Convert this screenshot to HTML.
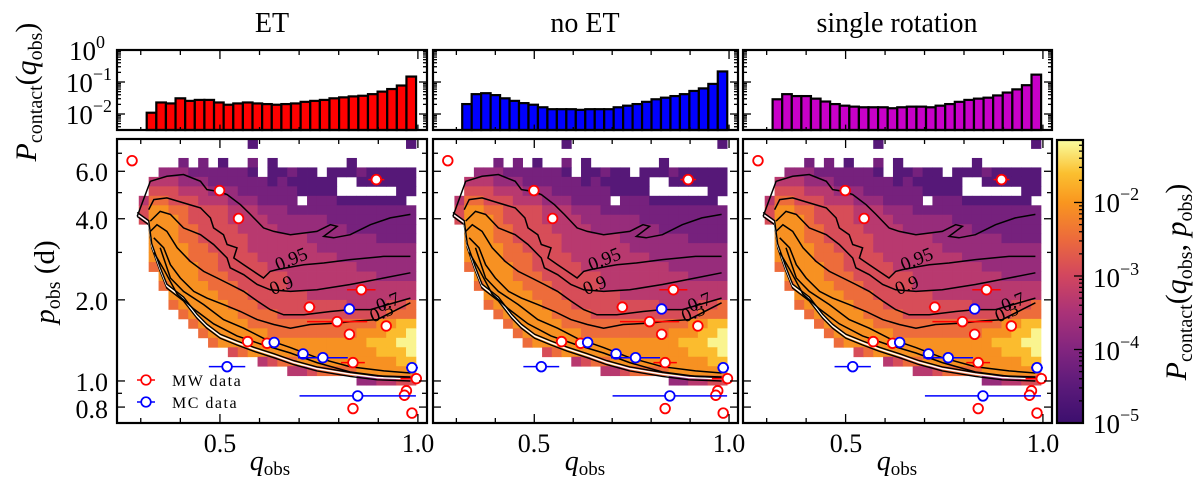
<!DOCTYPE html>
<html><head><meta charset="utf-8">
<style>
html,body{margin:0;padding:0;background:#fff;}
svg{display:block;font-family:"Liberation Serif","DejaVu Serif",serif;}
</style></head>
<body>
<svg id="fig" xmlns="http://www.w3.org/2000/svg" width="1200" height="487" viewBox="0 0 1200 487">
<defs>
<linearGradient id="cbgrad" x1="0" y1="1" x2="0" y2="0"></linearGradient>
<clipPath id="clip0"><rect x="117" y="139" width="310" height="284"/></clipPath>
<clipPath id="clip1"><rect x="433" y="139" width="305" height="284"/></clipPath>
<clipPath id="clip2"><rect x="743" y="139" width="309" height="284"/></clipPath>
</defs>
<g id="marks"></g>
<g font-size="28" fill="#000">
<text x="272" y="32" text-anchor="middle">ET</text>
<text x="585" y="32" text-anchor="middle">no ET</text>
<text x="897" y="32" text-anchor="middle">single rotation</text>
</g>
<g font-size="27" text-anchor="end">
<text x="105" y="60">10<tspan font-size="18" dy="-12">0</tspan></text>
<text x="112" y="92">10<tspan font-size="18" dy="-12">−1</tspan></text>
<text x="112" y="124">10<tspan font-size="18" dy="-12">−2</tspan></text>
</g>
<g font-size="26" text-anchor="end">
<text x="108" y="181">6.0</text>
<text x="108" y="229">4.0</text>
<text x="108" y="310">2.0</text>
<text x="108" y="391">1.0</text>
<text x="108" y="418">0.8</text>
</g>
<g font-size="26" text-anchor="middle">
<text x="220" y="452">0.5</text><text x="418" y="452">1.0</text>
<text x="534" y="452">0.5</text><text x="729" y="452">1.0</text>
<text x="846" y="452">0.5</text><text x="1043" y="452">1.0</text>
</g>
<g font-size="28" text-anchor="middle">
<text x="270" y="470"><tspan font-style="italic">q</tspan><tspan font-size="19" dy="5">obs</tspan></text>
<text x="585" y="470"><tspan font-style="italic">q</tspan><tspan font-size="19" dy="5">obs</tspan></text>
<text x="897" y="470"><tspan font-style="italic">q</tspan><tspan font-size="19" dy="5">obs</tspan></text>
</g>
<text font-size="30" text-anchor="middle" transform="translate(36,92) rotate(-90)"><tspan font-style="italic">P</tspan><tspan font-size="20" dy="6">contact</tspan><tspan dy="-6">(</tspan><tspan font-style="italic">q</tspan><tspan font-size="20" dy="6">obs</tspan><tspan dy="-6">)</tspan></text>
<text font-size="29" text-anchor="middle" transform="translate(54,282) rotate(-90)"><tspan font-style="italic">p</tspan><tspan font-size="20" dy="6">obs</tspan><tspan dy="-6"> (d)</tspan></text>
<text font-size="30" text-anchor="middle" transform="translate(1186,282) rotate(-90)"><tspan font-style="italic">P</tspan><tspan font-size="20" dy="6">contact</tspan><tspan dy="-6">(</tspan><tspan font-style="italic">q</tspan><tspan font-size="20" dy="6">obs</tspan><tspan dy="-6">, </tspan><tspan font-style="italic">p</tspan><tspan font-size="20" dy="6">obs</tspan><tspan dy="-6">)</tspan></text>
<g font-size="27">
<text x="1093" y="212">10<tspan font-size="18" dy="-12">−2</tspan></text>
<text x="1093" y="287">10<tspan font-size="18" dy="-12">−3</tspan></text>
<text x="1093" y="360">10<tspan font-size="18" dy="-12">−4</tspan></text>
<text x="1093" y="433">10<tspan font-size="18" dy="-12">−5</tspan></text>
</g>
<g font-size="16" letter-spacing="1.5">
<line x1="137" y1="380" x2="155" y2="380" stroke="#ff0000" stroke-width="1.5"/>
<circle cx="146" cy="380" r="4.8" fill="#fff" stroke="#ff0000" stroke-width="1.7"/>
<text x="172" y="386">MW data</text>
<line x1="137" y1="402" x2="155" y2="402" stroke="#0000ff" stroke-width="1.5"/>
<circle cx="146" cy="402" r="4.8" fill="#fff" stroke="#0000ff" stroke-width="1.7"/>
<text x="172" y="408">MC data</text>
</g>
</svg>
<script>
// ---------- data ----------
const histBinStart = 0.315;
const histBinWidth = 0.0243;
const histLogET   = [-1.96,-1.64,-1.67,-1.51,-1.59,-1.56,-1.56,-1.64,-1.71,-1.67,-1.64,-1.67,-1.69,-1.71,-1.69,-1.67,-1.62,-1.59,-1.56,-1.51,-1.48,-1.45,-1.43,-1.38,-1.30,-1.22,-1.11,-0.83];
const histLogNoET = [-1.69,-1.38,-1.35,-1.41,-1.51,-1.59,-1.66,-1.71,-1.79,-1.85,-1.85,-1.85,-1.87,-1.85,-1.85,-1.85,-1.79,-1.74,-1.69,-1.62,-1.54,-1.49,-1.44,-1.38,-1.28,-1.20,-1.06,-0.67];
const histLogSR   = [-1.54,-1.38,-1.44,-1.44,-1.52,-1.61,-1.69,-1.74,-1.77,-1.79,-1.79,-1.79,-1.82,-1.79,-1.77,-1.77,-1.79,-1.74,-1.69,-1.62,-1.56,-1.52,-1.49,-1.42,-1.33,-1.23,-1.10,-0.77];
const histColors = ["#ff0000","#0000ff","#c800c8"];

// heatmap: 28 q-bins x 30 log-p bins; digit d -> log10 density = -5 + 0.42*d ; '.' empty. Top row first.
const qBinStart = 0.295, qBinWidth = 0.025;
const lpBinStart = -0.156, lpBinStep = 0.03513;
const heatRows = [
"...........1...............1",
"............................",
"....2.2.1..2.1.......1......",
"..3332222221.11211.111211111",
".4443332222221211111..111111",
".5554443332222221111......11",
"4665554443332222.2221111111.",
"5776655554443332222222222222",
"5777655554444333333222222222",
".777665555444433333332222222",
".777665555544444433333332222",
".777766555544444443333333333",
".777766655554444444433333333",
".677776655555444444444333333",
"..77776665555554444444443333",
"..67777666555554444444444444",
"...7777766655555544444444444",
"...6777776665555555554444556",
"....6777776666555555555556 66".replace(" ",""),
".....67777766666666666667788",
"......6777777666666666777889",
".......677777777777777788899",
".........5677777777777778889",
"............4566777777777788",
"...............4456666777777",
"......................334455",
"............................",
"............................",
"............................",
"............................"
];
const levelStep = 0.42, levelBase = -5;

// colormap (log10 value -> colour)
const cmapVals   = [-5, -4.5, -4, -3.5, -3, -2.5, -2, -1.6, -1.15];
const cmapColors = ["#3c0f6e","#5b1a7a","#82257f","#aa3278","#d2465f","#ec6a3c","#f9961f","#fbc030","#fafda0"];

// observations
const mwQ    = [0.278,0.895,0.499,0.547,0.857,0.726,0.796,0.920,0.827,0.570,0.619,0.836,0.996,0.971,0.966,0.836,0.985];
const mwP    = [6.57,5.59,5.09,4.01,2.18,1.88,1.66,1.60,1.49,1.40,1.38,1.17,1.02,0.92,0.885,0.79,0.76];
const mwQerr = [0,0.02,0,0,0.036,0.015,0.076,0,0,0,0,0.03,0.04,0,0,0,0];
const mcQ    = [0.827,0.637,0.710,0.760,0.518,0.985,0.848];
const mcP    = [1.85,1.39,1.26,1.22,1.13,1.12,0.88];
const mcQerr = [0,0,0.01,0.063,0.046,0.015,0.147];

// contours [q, p]
const contourLower = [[0.291,4.08],[0.320,3.80],[0.328,3.12],[0.349,2.55],[0.366,2.21],[0.408,1.98],[0.442,1.71],[0.467,1.57],[0.501,1.44],[0.543,1.36],[0.585,1.29],[0.636,1.22],[0.686,1.15],[0.745,1.09],[0.829,1.04],[0.897,1.01],[0.981,1.00]];
const contour99 = [[0.291,4.08],[0.324,5.51],[0.366,5.75],[0.408,5.84],[0.451,5.51],[0.467,5.13],[0.493,5.06],[0.518,4.92],[0.552,4.51],[0.577,4.15],[0.610,3.70],[0.636,3.59],[0.678,3.49],[0.745,3.59],[0.779,3.80],[0.796,3.75],[0.762,3.44],[0.787,3.40],[0.829,3.49],[0.880,3.80],[0.930,4.03],[0.981,4.15]];
const contour95 = [[0.320,4.32],[0.333,4.71],[0.366,4.78],[0.408,4.58],[0.451,4.39],[0.476,4.03],[0.484,3.70],[0.509,3.49],[0.518,3.21],[0.543,3.12],[0.535,2.86],[0.560,2.70],[0.585,2.55],[0.610,2.41],[0.627,2.55],[0.644,2.59],[0.686,2.66],[0.712,2.70],[0.762,2.74],[0.829,2.82],[0.914,2.90],[0.981,2.90]];
const contour90 = [[0.324,3.92],[0.349,4.26],[0.375,4.15],[0.408,3.70],[0.451,3.49],[0.484,3.21],[0.518,2.86],[0.526,2.63],[0.560,2.48],[0.594,2.28],[0.627,2.18],[0.678,2.15],[0.745,2.18],[0.829,2.28],[0.914,2.41],[0.981,2.52]];
const contour70 = [[0.324,3.59],[0.341,3.80],[0.366,3.59],[0.392,3.12],[0.425,2.78],[0.459,2.55],[0.493,2.41],[0.526,2.28],[0.560,2.15],[0.594,1.98],[0.627,1.84],[0.661,1.76],[0.712,1.76],[0.779,1.81],[0.829,1.84],[0.880,1.84],[0.981,2.03]];
const contour50 = [[0.333,3.40],[0.358,3.12],[0.375,2.70],[0.400,2.41],[0.434,2.15],[0.467,2.03],[0.509,1.92],[0.552,1.81],[0.594,1.69],[0.636,1.62],[0.678,1.57],[0.728,1.62],[0.796,1.64],[0.846,1.67],[0.897,1.69],[0.981,1.95]];
const contour30 = [[0.349,3.12],[0.375,2.41],[0.408,2.15],[0.459,1.92],[0.509,1.69],[0.560,1.57],[0.610,1.44],[0.678,1.33],[0.745,1.22],[0.829,1.13],[0.914,1.09],[0.981,1.07]];
const contour10 = [[0.333,3.0],[0.358,2.6],[0.392,2.1],[0.434,1.85],[0.484,1.63],[0.543,1.47],[0.610,1.36],[0.678,1.27],[0.745,1.17],[0.829,1.08],[0.914,1.04],[0.981,1.03]];
const contourLabels = ["0.95","0.9","0.7","0.5"];
const contourLabelQ = [0.686,0.661,0.930,0.914];
const contourLabelP = [2.70,2.16,1.87,1.71];

// ---------- layout ----------
const NS = "http://www.w3.org/2000/svg";
const panels = [{x0:117,x1:427},{x0:433,x1:738},{x0:743,x1:1052}];
const panelHists = [histLogET, histLogNoET, histLogSR];
const Q_MIN = 0.24, Q_MAX = 1.023;
const HIST_TOP = 50, HIST_BOT = 130, HIST_LOG_MIN = -2.5;
const HEAT_TOP = 139, HEAT_BOT = 423, LP_MIN = -0.156, LP_RANGE = 1.054;
const CB = {x0:1057, x1:1083, y0:140, y1:423, lmin:-5, lmax:-1.15};

function xScale(P){ return q => P.x0 + (q - Q_MIN)/(Q_MAX - Q_MIN)*(P.x1 - P.x0); }
function pScale(p){ return HEAT_BOT - (Math.log10(p) - LP_MIN)/LP_RANGE*(HEAT_BOT - HEAT_TOP); }
function lpScale(lp){ return HEAT_BOT - (lp - LP_MIN)/LP_RANGE*(HEAT_BOT - HEAT_TOP); }
function hScale(lg){ return HIST_TOP + (0 - lg)/(0 - HIST_LOG_MIN)*(HIST_BOT - HIST_TOP); }
function cbScale(lg){ return CB.y1 - (lg - CB.lmin)/(CB.lmax - CB.lmin)*(CB.y1 - CB.y0); }

function hex2rgb(h){ return [1,3,5].map(i=>parseInt(h.substr(i,2),16)); }
function cmap(v){
  if (v <= cmapVals[0]) return cmapColors[0];
  for (let i=1;i<cmapVals.length;i++){
    if (v <= cmapVals[i]){
      const t=(v-cmapVals[i-1])/(cmapVals[i]-cmapVals[i-1]);
      const a=hex2rgb(cmapColors[i-1]), b=hex2rgb(cmapColors[i]);
      return "rgb("+a.map((c,k)=>Math.round(c+(b[k]-c)*t)).join(",")+")";
    }
  }
  return cmapColors[cmapColors.length-1];
}
function mk(tag, attrs, parent){
  const e=document.createElementNS(NS,tag);
  for (const k in attrs) e.setAttribute(k, attrs[k]);
  parent.appendChild(e);
  return e;
}
const root = document.getElementById("marks");

const grad = document.getElementById("cbgrad");
cmapVals.forEach((v,i)=>{
  mk("stop",{offset:((v-CB.lmin)/(CB.lmax-CB.lmin)*100).toFixed(2)+"%","stop-color":cmapColors[i]},grad);
});

panels.forEach((P, pi) => {
  const xs = xScale(P);
  const g = mk("g",{},root);
  
  

  const hg = mk("g",{},g);
  
  
  panelHists[pi].forEach((lg, i) => {
    if (lg === null) return;
    const qa = histBinStart + i*histBinWidth, qb = qa + histBinWidth;
    const y = hScale(lg);
    const r = mk("rect",{x:xs(qa),y:y,width:xs(qb)-xs(qa),height:HIST_BOT-y,fill:histColors[pi],stroke:"#000","stroke-width":2.2},hg);
    
    
  });

  const cg = mk("g",{"clip-path":"url(#clip"+pi+")"},g);
  
  
  heatRows.forEach((row, ri) => {
    const r = heatRows.length - 1 - ri;
    const lp0 = lpBinStart + r*lpBinStep;
    const yTop = lpScale(lp0 + lpBinStep), yBot = lpScale(lp0);
    for (let c=0;c<row.length;c++){
      const ch=row[c];
      if (ch === ".") continue;
      const v = levelBase + levelStep*parseInt(ch,10);
      const qa = qBinStart + c*qBinWidth;
      const x = xs(qa), w = xs(qa+qBinWidth)-x;
      const cell = mk("rect",{x:x,y:yTop,width:w+0.4,height:yBot-yTop+0.4,fill:cmap(v)},cg);
      
      
    }
  });

  const path = pts => pts.map((p,i)=>(i?"L":"M")+xs(p[0]).toFixed(1)+","+pScale(p[1]).toFixed(1)).join("");
  const lowerD = path(contourLower);
  [["#000",0],["#fff",-2.2],["#000",-4]].forEach(([col,dy])=>{
    const l = mk("path",{d:lowerD,fill:"none",stroke:col,"stroke-width":1.4,transform:"translate(0,"+dy+")"},cg);
    
    
  });
  [contour99,contour95,contour90,contour70,contour50,contour30,contour10].forEach((ct,k)=>{
    const l = mk("path",{d:path(ct),fill:"none",stroke:"#000","stroke-width":1.5},cg);
    
    
  });
  contourLabels.forEach((t,k)=>{
    const x=xs(contourLabelQ[k]), y=pScale(contourLabelP[k]);
    const tx = mk("text",{x:x,y:y,"font-size":19,"text-anchor":"middle",transform:"rotate(-22 "+x+" "+y+")"},cg);
    tx.textContent = t;
    
    
  });

  const dg = mk("g",{},g);
  
  
  const drawPts = (Q,Pp,E,col,name) => {
    Q.forEach((q,i)=>{
      const x=xs(q), y=pScale(Pp[i]);
      if (E[i]>0){
        const eb = mk("line",{x1:xs(q-E[i]),x2:xs(Math.min(q+E[i],1.0)),y1:y,y2:y,stroke:col,"stroke-width":1.5},dg);
        
        
      }
      const c = mk("circle",{cx:x,cy:y,r:4.8,fill:"#fff",stroke:col,"stroke-width":1.8},dg);
      
      
    });
  };
  drawPts(mwQ,mwP,mwQerr,"#ff0000","mw");
  drawPts(mcQ,mcP,mcQerr,"#0000ff","mc");

  const f1 = mk("rect",{x:P.x0,y:HIST_TOP,width:P.x1-P.x0,height:HIST_BOT-HIST_TOP,fill:"none",stroke:"#000","stroke-width":2.2},g);
  
  
  const f2 = mk("rect",{x:P.x0,y:HEAT_TOP,width:P.x1-P.x0,height:HEAT_BOT-HEAT_TOP,fill:"none",stroke:"#000","stroke-width":2.2},g);
  
  

  const tg = mk("g",{stroke:"#000","stroke-width":1.3},g);
  
  
  for (let k=3;k<=10;k++){
    const q=k/10, x=xs(q), L=(k===5||k===10)?9:5;
    mk("line",{x1:x,x2:x,y1:HIST_TOP,y2:HIST_TOP+L},tg);
    mk("line",{x1:x,x2:x,y1:HIST_BOT,y2:HIST_BOT-L*0.6},tg);
    mk("line",{x1:x,x2:x,y1:HEAT_TOP,y2:HEAT_TOP+L},tg);
    mk("line",{x1:x,x2:x,y1:HEAT_BOT,y2:HEAT_BOT-L},tg);
  }
  for (let d=-3; d<=0; d++){
    for (let m=1;m<=9;m++){
      const lg = d + Math.log10(m);
      if (lg < HIST_LOG_MIN || lg > 0) continue;
      const y=hScale(lg), L=(m===1)?8:4;
      mk("line",{x1:P.x0,x2:P.x0+L,y1:y,y2:y},tg);
      mk("line",{x1:P.x1,x2:P.x1-L,y1:y,y2:y},tg);
    }
  }
  [0.8,0.9,1,2,3,4,5,6,7].forEach(p=>{
    const y=pScale(p), L=([0.8,1,2,4,6].indexOf(p)>=0)?8:5;
    mk("line",{x1:P.x0,x2:P.x0+L,y1:y,y2:y},tg);
    mk("line",{x1:P.x1,x2:P.x1-L,y1:y,y2:y},tg);
  });
});

const cbg = mk("g",{},root);


const cbr = mk("rect",{x:CB.x0,y:CB.y0,width:CB.x1-CB.x0,height:CB.y1-CB.y0,fill:"url(#cbgrad)",stroke:"#000","stroke-width":2.2},cbg);


for (let d=-5; d<=-1; d++){
  for (let m=1;m<=9;m++){
    const lg=d+Math.log10(m);
    if (lg<CB.lmin||lg>CB.lmax) continue;
    const y=cbScale(lg), L=(m===1)?9:4;
    mk("line",{x1:CB.x1,x2:CB.x1-L,y1:y,y2:y,stroke:"#000","stroke-width":1.3},cbg);
  }
}
</script>
</body></html>
